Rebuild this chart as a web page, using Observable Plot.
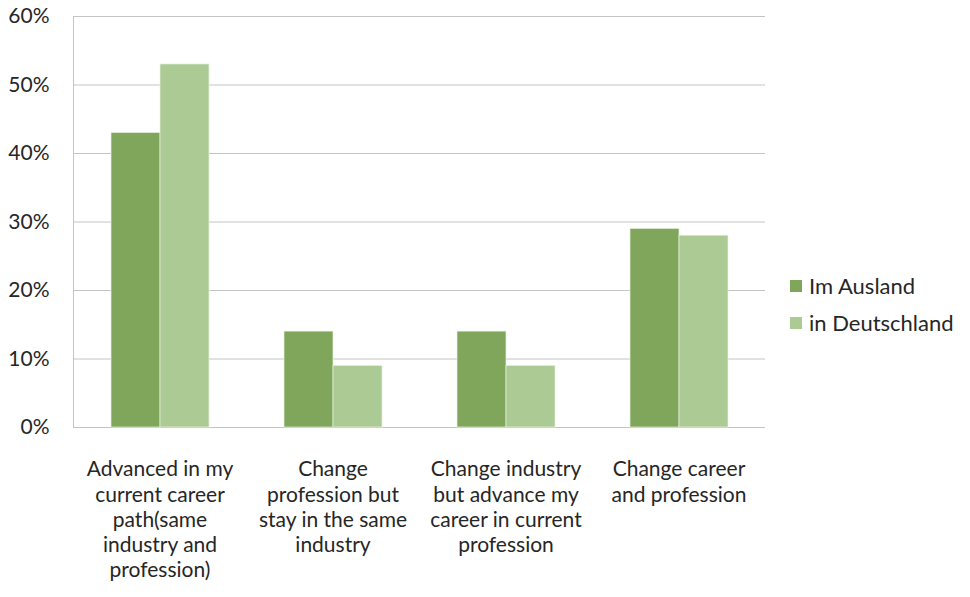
<!DOCTYPE html>
<html>
<head>
<meta charset="utf-8">
<script src="https://cdn.jsdelivr.net/npm/d3@7"></script>
<script src="https://cdn.jsdelivr.net/npm/@observablehq/plot@0.6"></script>
<style>
  html, body { margin: 0; padding: 0; background: #fff; }
  #wrap { position: relative; width: 970px; height: 597px; font-family: Lato, "Open Sans", sans-serif; }
  #legend { position: absolute; left: 790px; top: 267px; font-size: 22px; color: #262626; }
  #legend .item { display: flex; align-items: center; height: 37px; }
  #legend .sw { width: 12px; height: 12px; margin-right: 7px; }
</style>
</head>
<body>
<div id="wrap"><div id="legend"></div></div>
<script>
const categories = [
  "Advanced in my\ncurrent career\npath(same\nindustry and\nprofession)",
  "Change\nprofession but\nstay in the same\nindustry",
  "Change industry\nbut advance my\ncareer in current\nprofession",
  "Change career\nand profession"
];
const series = ["Im Ausland", "in Deutschland"];
const imAusland = [0.43, 0.14, 0.14, 0.29];
const inDeutschland = [0.53, 0.09, 0.09, 0.28];
const yTicks = [0, 0.1, 0.2, 0.3, 0.4, 0.5, 0.6];
const colors = ["#7fa65a", "#abca94"];

const rows = [];
categories.forEach((c, i) => {
  rows.push({category: c, series: series[0], value: imAusland[i]});
  rows.push({category: c, series: series[1], value: inDeutschland[i]});
});

const chart = Plot.plot({
  width: 970,
  height: 597,
  marginLeft: 72,
  marginRight: 204,
  marginTop: 16,
  marginBottom: 170,
  style: {fontFamily: "Lato, 'Open Sans', sans-serif", fontSize: "21px", color: "#262626", background: "#fff"},
  fx: {domain: categories, padding: 0, label: null},
  x: {domain: series, paddingInner: 0, paddingOuter: 0.735, axis: null},
  y: {domain: [0, 0.6], label: null},
  color: {domain: series, range: colors},
  marks: [
    Plot.gridY(yTicks, {stroke: "#c4c4c4", strokeOpacity: 1}),
    Plot.frame({anchor: "left", stroke: "#c4c4c4", fx: [categories[0]]}),
    Plot.axisY(yTicks, {tickFormat: d3.format(".0%"), tickSize: 0, tickPadding: 24, label: null, fill: "#262626", fontSize: 21}),
    Plot.barY(rows, {fx: "category", x: "series", y: "value", fill: "series", stroke: "#e9f1e2", strokeWidth: 0.7}),
    Plot.axisFx({anchor: "bottom", tickSize: 0, tickPadding: 31, lineHeight: 1.2, label: null, fill: "#262626", fontSize: 21})
  ]
});

document.getElementById("wrap").prepend(chart);
const legend = document.getElementById("legend");
series.forEach((s, i) => {
  const it = document.createElement("div");
  it.className = "item";
  it.innerHTML = `<span class="sw" style="background:${colors[i]}"></span><span>${s}</span>`;
  legend.appendChild(it);
});
</script>
</body>
</html>
